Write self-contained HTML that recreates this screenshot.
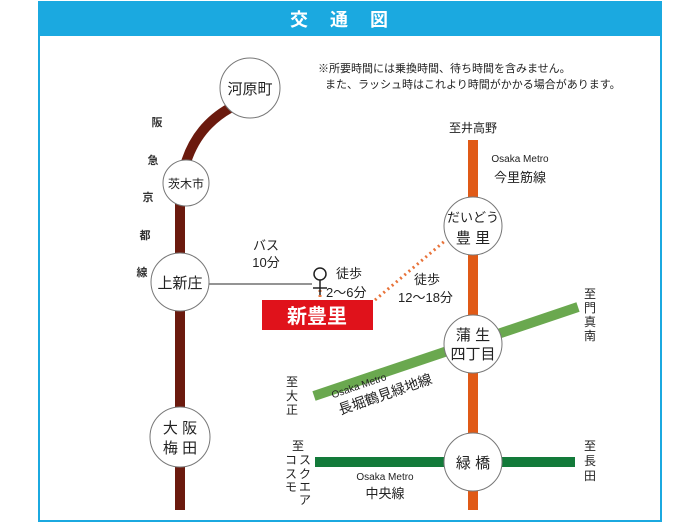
<!DOCTYPE html>
<html><head><meta charset="utf-8"><style>
body{margin:0;width:700px;height:525px;background:#fff;overflow:hidden;font-family:"Liberation Sans","Noto Sans CJK JP",sans-serif}
</style></head><body>
<svg width="700" height="525" viewBox="0 0 700 525" font-family="Liberation Sans, Noto Sans CJK JP, sans-serif">
<rect x="39" y="2" width="622" height="519" fill="#fff" stroke="#1ba9e0" stroke-width="2"/>
<rect x="38" y="1" width="624" height="35" fill="#1ba9e0"/>
<text x="350" y="26" fill="#fff" font-size="18" font-weight="bold" text-anchor="middle" letter-spacing="22">交通図</text>
<text x="318" y="72" font-size="11" fill="#222">※所要時間には乗換時間、待ち時間を含みません。</text>
<text x="325" y="88" font-size="11" fill="#222">また、ラッシュ時はこれより時間がかかる場合があります。</text>
<!-- brown line -->
<path d="M180 510 L180 200 Q182 135 230 108" stroke="#6b1a0e" stroke-width="10" fill="none"/>
<g font-size="11" fill="#333" text-anchor="middle" font-weight="bold">
<text x="157" y="126">阪</text><text x="153" y="164">急</text><text x="148" y="201">京</text><text x="145" y="239">都</text><text x="142" y="276">線</text></g>
<!-- orange line -->
<line x1="473" y1="140" x2="473" y2="510" stroke="#e05a17" stroke-width="10"/>
<!-- green lines -->
<line x1="314" y1="396" x2="578" y2="307" stroke="#6aa84f" stroke-width="10"/>
<line x1="315" y1="462" x2="575" y2="462" stroke="#137a3a" stroke-width="10"/>
<!-- bus line -->
<line x1="208" y1="284" x2="312" y2="284" stroke="#555" stroke-width="1.2"/>
<text x="266" y="250" font-size="13" text-anchor="middle" fill="#222">バス</text>
<text x="266" y="267" font-size="13" text-anchor="middle" fill="#222">10分</text>
<!-- dotted -->
<line x1="375" y1="300" x2="446" y2="240" stroke="#e8733a" stroke-width="3" stroke-dasharray="2,3.5"/>
<line x1="320" y1="290" x2="320" y2="300" stroke="#e8733a" stroke-width="3" stroke-dasharray="2,3"/>
<!-- person -->
<circle cx="320" cy="274" r="6" fill="#fff" stroke="#222" stroke-width="1.5"/>
<line x1="320" y1="280" x2="320" y2="295" stroke="#222" stroke-width="1.5"/>
<line x1="313" y1="288" x2="327" y2="288" stroke="#222" stroke-width="1.5"/>
<text x="336" y="278" font-size="13" fill="#222">徒歩</text>
<text x="326" y="297" font-size="13" fill="#222">2〜6分</text>
<rect x="262" y="300" width="111" height="30" fill="#e0121b"/>
<text x="317" y="323" font-size="20" font-weight="bold" fill="#fff" text-anchor="middle">新豊里</text>
<text x="414" y="284" font-size="13" fill="#222">徒歩</text>
<text x="398" y="302" font-size="13" fill="#222">12〜18分</text>
<!-- stations -->
<g fill="#fff" stroke="#777" stroke-width="1">
<circle cx="250" cy="88" r="30"/><circle cx="186" cy="183" r="23"/><circle cx="180" cy="282" r="29"/><circle cx="180" cy="437" r="30"/>
<circle cx="473" cy="226" r="29"/><circle cx="473" cy="344" r="29"/><circle cx="473" cy="462" r="29"/></g>
<g font-size="15" fill="#222" text-anchor="middle">
<text x="250" y="94">河原町</text>
<text x="186" y="188" font-size="12">茨木市</text>
<text x="180" y="288">上新庄</text>
<text x="180" y="433">大 阪</text><text x="180" y="453">梅 田</text>
<text x="473" y="222" font-size="13">だいどう</text><text x="473" y="243">豊 里</text>
<text x="473" y="340">蒲 生</text><text x="473" y="359">四丁目</text>
<text x="473" y="468">緑 橋</text>
</g>
<g font-size="12" fill="#222" text-anchor="middle">
<text x="473" y="132">至井高野</text>
<text x="520" y="162" font-size="10">Osaka Metro</text>
<text x="520" y="182" font-size="13">今里筋線</text>
<text x="590" y="298">至</text><text x="590" y="312">門</text><text x="590" y="326">真</text><text x="590" y="340">南</text>
<text x="292" y="386">至</text><text x="292" y="400">大</text><text x="292" y="414">正</text>
<text x="298" y="450">至</text>
<text x="305" y="464">ス</text><text x="305" y="478">ク</text><text x="305" y="491">エ</text><text x="305" y="504">ア</text>
<text x="291" y="464">コ</text><text x="291" y="478">ス</text><text x="291" y="491">モ</text>
<text x="590" y="450">至</text><text x="590" y="465">長</text><text x="590" y="480">田</text>
<text x="385" y="480" font-size="10">Osaka Metro</text>
<text x="385" y="498" font-size="13">中央線</text>
</g>
<g transform="translate(360,389) rotate(-19)" fill="#222" text-anchor="middle">
<text x="0" y="0" font-size="10">Osaka Metro</text>
<text x="22" y="18" font-size="14">長堀鶴見緑地線</text>
</g>
</svg>
</body></html>
